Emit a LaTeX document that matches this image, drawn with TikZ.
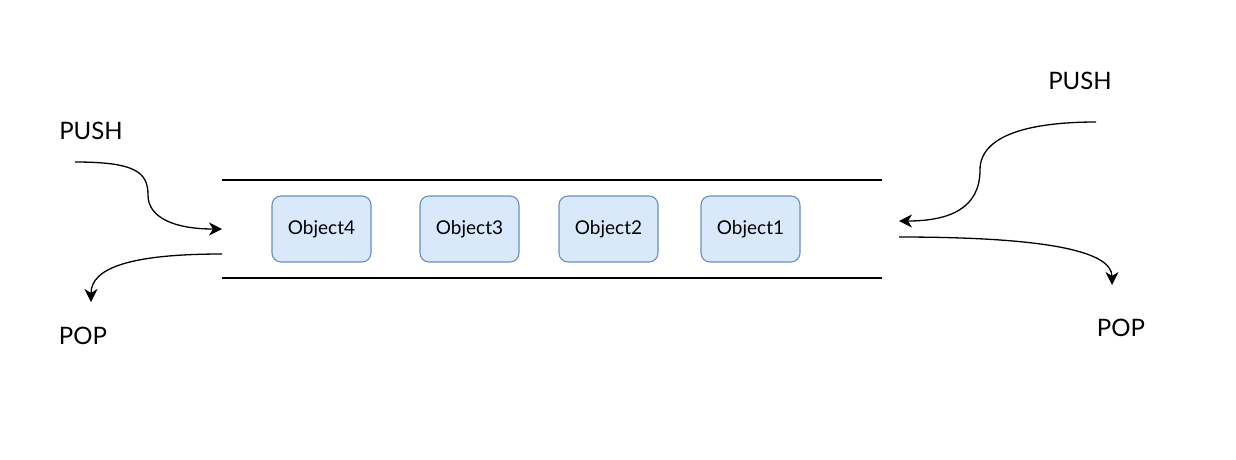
\documentclass[tikz,border=0pt]{standalone}
\usepackage{fontspec}
\setmainfont{Lato}
\usetikzlibrary{arrows.meta}
\definecolor{objfill}{HTML}{DAE8FC}
\definecolor{objdraw}{HTML}{6C8EBF}
\begin{document}
\begin{tikzpicture}[x=1pt,y=-1pt,
  objbox/.style={draw=objdraw, fill=objfill, line width=1.1pt, rounded corners=9pt,
     minimum width=99pt, minimum height=66pt, inner sep=0pt, font=\fontsize{19}{22}\selectfont},
  lbl/.style={font=\fontsize{24}{28}\selectfont, inner sep=0pt},
  rail/.style={line width=1.3pt},
  flow/.style={line width=1.3pt, -{Stealth[length=13pt,width=13pt,inset=4pt]}}]
\useasboundingbox (0,0) rectangle (1236,459);
\fill[white] (0,0) rectangle (1236,459);
% rails
\coordinate (tl) at (222,180); \coordinate (tr) at (882,180);
\coordinate (bl) at (222,278); \coordinate (br) at (882,278);
\draw[rail] (tl) -- (tr);
\draw[rail] (bl) -- (br);
% objects
\node[objbox] (o4) at (321.5,229) {Object4};
\node[objbox] (o3) at (469.5,229) {Object3};
\node[objbox] (o2) at (608.5,229) {Object2};
\node[objbox] (o1) at (750.5,229) {Object1};
% labels
\node[lbl] (pushL) at (91,131) {PUSH};
\node[lbl] (popL) at (83,336) {POP};
\node[lbl] (pushR) at (1080,81) {PUSH};
\node[lbl] (popR) at (1121,328) {POP};
% free ends
\coordinate (a1s) at (75,162);  \coordinate (a1e) at (222,229);
\coordinate (a2s) at (222,254); \coordinate (a2e) at (91,302);
\coordinate (a3s) at (1096,122); \coordinate (a3e) at (899,221);
\coordinate (a4s) at (899,237); \coordinate (a4e) at (1112,285);
\draw[flow] (a1s) .. controls (135,162) and (148,172) .. (148,195) .. controls (148,218) and (175,229) .. (a1e);
\draw[flow] (a2s) .. controls (130,254) and (91,268) .. (a2e);
\draw[flow] (a3s) .. controls (1030,122) and (980,135) .. (980,170) .. controls (980,208) and (950,221) .. (a3e);
\draw[flow] (a4s) .. controls (1040,237) and (1112,250) .. (a4e);
\end{tikzpicture}
\end{document}
